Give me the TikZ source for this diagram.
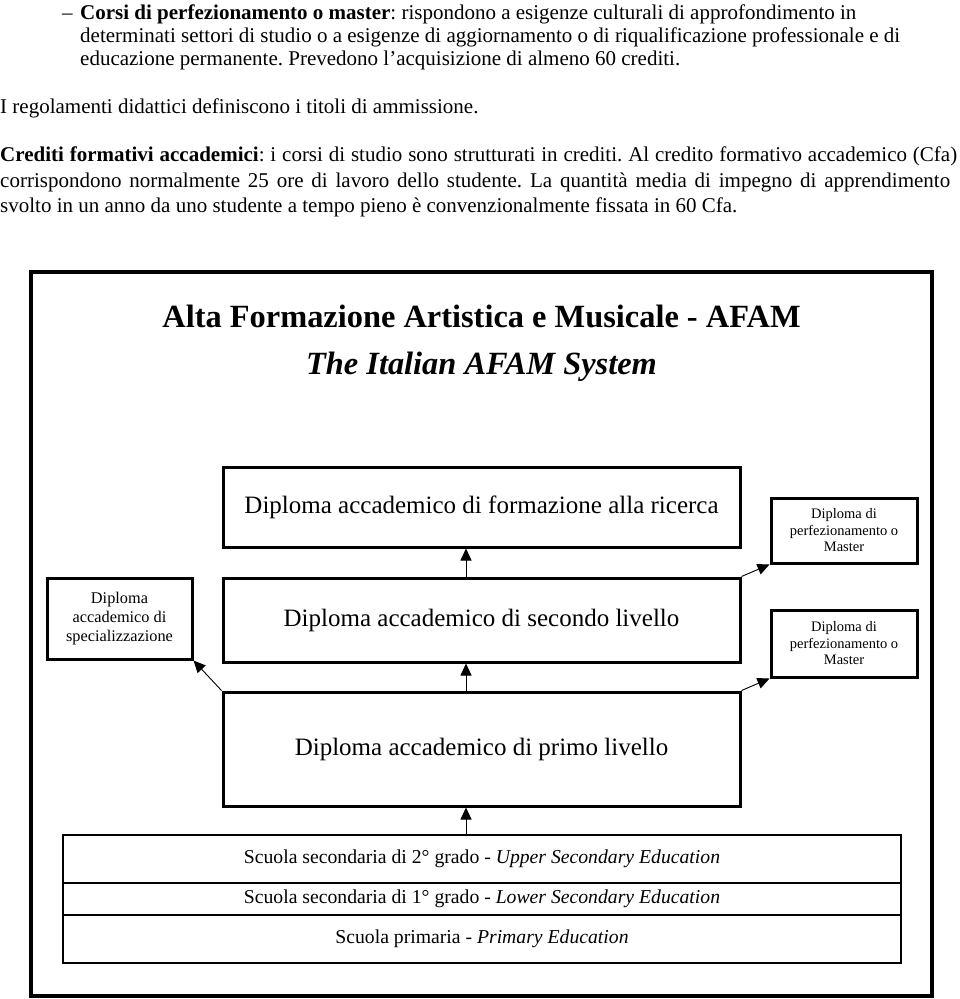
\documentclass[tikz,border=0pt]{standalone}
\usepackage{fontspec}
\setmainfont{Liberation Serif}
\usetikzlibrary{arrows.meta}
\frenchspacing
\tikzset{
  bigbox/.style={draw, line width=3pt, rectangle, inner sep=0pt, font=\fontsize{25}{29}\selectfont},
  smallbox/.style={draw, line width=3pt, rectangle, inner sep=0pt, align=center},
  schoolbox/.style={draw, line width=1.8pt, rectangle, inner sep=0pt, font=\fontsize{19.7}{23}\selectfont},
  arr/.style={line width=0.9pt, -{Triangle[length=12pt,width=11pt]}},
  para/.style={anchor=base west, inner sep=0pt, font=\fontsize{21}{24}\selectfont\frenchspacing},
  lbl/.style={anchor=base, inner sep=0pt}
}
\begin{document}
\begin{tikzpicture}[x=1pt,y=-1pt]
\useasboundingbox[fill=white] (0,0) rectangle (960,999);
% top text
\node[para] (d) at (62,19) {–};
\node[para] (l1) at (80,19) {\textbf{Corsi di perfezionamento o master}: rispondono a esigenze culturali di approfondimento in};
\node[para] (l2) at (80,42) {determinati settori di studio o a esigenze di aggiornamento o di riqualificazione professionale e di};
\node[para] (l3) at (80,65) {educazione permanente. Prevedono l’acquisizione di almeno 60 crediti.};
\node[para] (l4) at (0,113) {I regolamenti didattici definiscono i titoli di ammissione.};
\node[para] (l5) at (0,161) {\makebox[957pt][s]{\textbf{Crediti formativi accademici}: i corsi di studio sono strutturati in crediti. Al credito formativo accademico (Cfa)}};
\node[para] (l6) at (0,187) {\makebox[950pt][s]{corrispondono normalmente 25 ore di lavoro dello studente. La quantità media di impegno di apprendimento}};
\node[para] (l7) at (0,212) {svolto in un anno da uno studente a tempo pieno è convenzionalmente fissata in 60 Cfa.};
% frame
\draw[line width=3.5pt] (31,272) rectangle (932,996);
\node[lbl, font=\fontsize{32.4}{36}\selectfont\bfseries] (t1) at (481.5,327) {Alta Formazione Artistica e Musicale - AFAM};
\node[lbl, font=\fontsize{32.4}{36}\selectfont\bfseries\itshape] (t2) at (481.5,374) {The Italian AFAM System};
% main boxes
\node[bigbox, minimum width=517pt, minimum height=80pt] (b1) at (481.5,507) {Diploma accademico di formazione alla ricerca};
\node[bigbox, minimum width=517pt, minimum height=84pt] (b2) at (481.5,620) {Diploma accademico di secondo livello};
\node[bigbox, minimum width=517pt, minimum height=114pt] (b3) at (481.5,749) {Diploma accademico di primo livello};
% side boxes
\node[smallbox, minimum width=145pt, minimum height=81pt, font=\fontsize{16.3}{19}\selectfont] (sp) at (119.5,618.5) {Diploma\\accademico di\\specializzazione};
\node[smallbox, minimum width=146pt, minimum height=65pt, font=\fontsize{14.5}{16.5}\selectfont] (m1) at (844,530.5) {Diploma di\\perfezionamento o\\Master};
\node[smallbox, minimum width=146pt, minimum height=67pt, font=\fontsize{14.5}{16.5}\selectfont] (m2) at (844,643.5) {Diploma di\\perfezionamento o\\Master};
% school boxes
\node[schoolbox, minimum width=838pt, minimum height=48pt] (s2) at (482,859) {Scuola secondaria di 2° grado - \textit{Upper Secondary Education}};
\node[schoolbox, minimum width=838pt, minimum height=32pt] (s1) at (482,899) {Scuola secondaria di 1° grado - \textit{Lower Secondary Education}};
\node[schoolbox, minimum width=838pt, minimum height=48pt] (s0) at (482,939) {Scuola primaria - \textit{Primary Education}};
% arrows
\coordinate (ax) at (466,0);
\draw[arr] (ax |- s2.north) -- (ax |- b3.south);
\draw[arr] (ax |- b3.north) -- (ax |- b2.south);
\draw[arr] (ax |- b2.north) -- (ax |- b1.south);
\draw[arr] (b3.north west) -- (sp.south east);
\draw[arr] (b2.north east) -- (m1.south west);
\draw[arr] (b3.north east) -- (m2.south west);
\end{tikzpicture}
\end{document}
